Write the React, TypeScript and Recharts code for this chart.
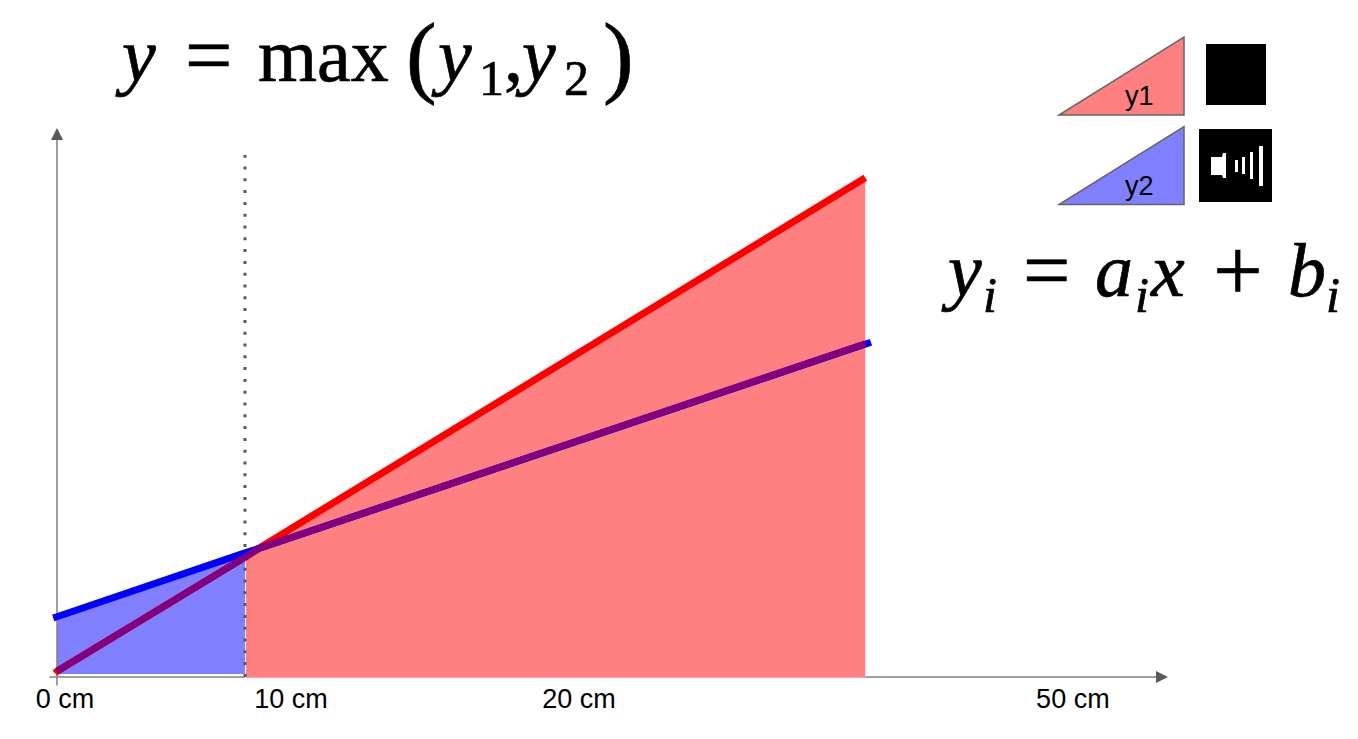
import React from 'react';
import {
  ComposedChart,
  Area,
  Line,
  XAxis,
  YAxis,
  ReferenceLine,
  ReferenceDot
} from 'recharts';

// x in cm, y in cm above the baseline
const xValues = [-0.2, -0.1, 0, 10, 10.05, 10.7, 43, 43.3];
const y1Line = [null, 0.2, 0.3, 6.36, 6.39, 6.82, 26.55, null];
const y2Line = [3.14, null, 3.2, 6.6, 6.62, 6.82, null, 17.8];
const y1Below = [null, null, 0.3, 6.36, 6.39, 6.82, null, null];
const y2Above = [null, null, null, null, null, 6.82, 17.72, null];
const y2Band = [null, null, [0.16, 3.2], [0.16, 6.6], null, null, null, null];
const y1Band = [null, null, null, null, [-0.05, 6.38], [-0.05, 6.82], [-0.05, 26.55], null];

const tickValues = [0.43, 12.45, 27.77, 54.04];
const tickLabels = ['0 cm', '10 cm', '20 cm', '50 cm'];

const legendNames = ['y1', 'y2'];
const legendColors = ['#ff8080', '#8080ff'];

const data = xValues.map((x, i) => ({
  x,
  y1: y1Line[i],
  y2: y2Line[i],
  y1Below: y1Below[i],
  y2Above: y2Above[i],
  y1Band: y1Band[i],
  y2Band: y2Band[i]
}));

const AXIS = '#808080';
const MATH = '"Liberation Serif", serif';

const UpArrow = ({ cx, cy }: any) => (
  <path d={`M${cx - 6} ${cy + 12} L${cx} ${cy} L${cx + 6} ${cy + 12} Z`} fill="#595959" />
);
const RightArrow = ({ cx, cy }: any) => (
  <path d={`M${cx - 12} ${cy - 6} L${cx} ${cy} L${cx - 12} ${cy + 6} Z`} fill="#595959" />
);

const Overlay = () => (
  <svg
    width={1358}
    height={739}
    style={{ position: 'absolute', left: 0, top: 0, pointerEvents: 'none' }}
  >
    {/* formula, top */}
    <text y={81} fontFamily={MATH} fontSize={76} fill="#000" stroke="#000" strokeWidth={0.7}>
      <tspan x={122} fontStyle="italic">y</tspan>
      <tspan x={185} y={84} fontSize={84}>=</tspan>
      <tspan x={258} y={81}>max</tspan>
      <tspan x={406} y={86} fontSize={92}>(</tspan>
      <tspan x={438} y={81} fontStyle="italic">y</tspan>
      <tspan x={479} y={95} fontSize={50}>1</tspan>
      <tspan x={504} y={81}>,</tspan>
      <tspan x={522} fontStyle="italic">y</tspan>
      <tspan x={564} y={95} fontSize={50}>2</tspan>
      <tspan x={603} y={86} fontSize={92}>)</tspan>
    </text>

    {/* formula, right */}
    <text y={296} fontFamily={MATH} fontSize={76} fill="#000" stroke="#000" strokeWidth={0.7}>
      <tspan x={948} fontStyle="italic">y</tspan>
      <tspan x={983} y={312} fontSize={50} fontStyle="italic">i</tspan>
      <tspan x={1023} y={299} fontSize={84}>=</tspan>
      <tspan x={1095} y={296} fontStyle="italic">a</tspan>
      <tspan x={1135} y={312} fontSize={50} fontStyle="italic">i</tspan>
      <tspan x={1151} y={296} fontStyle="italic">x</tspan>
      <tspan x={1213} y={300} fontSize={88}>+</tspan>
      <tspan x={1288} y={296} fontStyle="italic">b</tspan>
      <tspan x={1326} y={312} fontSize={50} fontStyle="italic">i</tspan>
    </text>

    {/* legend */}
    {legendNames.map((name, i) => (
      <g key={name} transform={`translate(0 ${i * 89.5})`}>
        <path d="M1059 115 L1184 115 L1184 37 Z" fill={legendColors[i]} stroke="#666" strokeWidth={1.5} />
        <text x={1125} y={105} fontFamily="Liberation Sans" fontSize={27} fill="#000">{name}</text>
      </g>
    ))}
    <rect x={1206} y={44} width={60} height={61} fill="#000" />
    <rect x={1199} y={129} width={73} height={73} fill="#000" />
    <path d="M1211 157 L1222 157 L1223 153 L1226 153 L1226 178 L1223 178 L1222 175 L1211 175 Z" fill="#fff" />
    <rect x={1235} y={160} width={3} height={12} fill="#fff" />
    <rect x={1242} y={157} width={3} height={17} fill="#fff" />
    <rect x={1250} y={152} width={3} height={27} fill="#fff" />
    <rect x={1259} y={146} width={4} height={40} fill="#fff" />
  </svg>
);

export default function App() {
  return (
    <div style={{ position: 'absolute', left: 0, top: 0, width: 1358, height: 739, background: '#fff' }}>
      <ComposedChart
        width={1358}
        height={739}
        data={data}
        margin={{ top: 128, right: 190, left: 53.24, bottom: 0 }}
      >
        <XAxis
          dataKey="x"
          type="number"
          domain={[-0.2, 59.1]}
          ticks={tickValues}
          interval={0}
          height={60.2}
          axisLine={false}
          tickLine={false}
          tick={{ fill: '#000', fontSize: 27, fontFamily: 'Liberation Sans' }}
          tickMargin={4}
          tickFormatter={(v: number) => tickLabels[tickValues.indexOf(v)]}
        />
        <YAxis type="number" domain={[-0.1, 29.2]} hide />

        <Area dataKey="y2Band" stroke="none" fill="#8080ff" fillOpacity={1} dot={false} activeDot={false} isAnimationActive={false} />
        <Area dataKey="y1Band" stroke="none" fill="#ff8080" fillOpacity={1} dot={false} activeDot={false} isAnimationActive={false} />

        {/* the axes; the red area covers the baseline in the reference */}
        <ReferenceLine segment={[{ x: -0.4, y: 0 }, { x: 10, y: 0 }]} stroke={AXIS} strokeWidth={1.5} ifOverflow="visible" />
        <ReferenceLine segment={[{ x: 43, y: 0 }, { x: 59, y: 0 }]} stroke={AXIS} strokeWidth={1.5} ifOverflow="visible" />
        <ReferenceLine segment={[{ x: 0, y: -0.45 }, { x: 0, y: 29 }]} stroke={AXIS} strokeWidth={1.5} ifOverflow="visible" />
        <ReferenceDot x={0} y={29.2} ifOverflow="visible" shape={UpArrow} />
        <ReferenceDot x={59.1} y={0} ifOverflow="visible" shape={RightArrow} />

        <ReferenceLine
          segment={[{ x: 10, y: 0 }, { x: 10, y: 27.77 }]}
          stroke="#595959"
          strokeWidth={3}
          strokeDasharray="3 8.8"
          ifOverflow="visible"
        />

        <Line dataKey="y1" stroke="#ff0000" strokeWidth={7} dot={false} activeDot={false} connectNulls isAnimationActive={false} />
        <Line dataKey="y2" stroke="#0000ff" strokeWidth={7} dot={false} activeDot={false} connectNulls isAnimationActive={false} />
        <Line dataKey="y1Below" stroke="#800080" strokeWidth={7} dot={false} activeDot={false} connectNulls isAnimationActive={false} />
        <Line dataKey="y2Above" stroke="#800080" strokeWidth={7} dot={false} activeDot={false} connectNulls isAnimationActive={false} />
      </ComposedChart>
      <Overlay />
    </div>
  );
}
